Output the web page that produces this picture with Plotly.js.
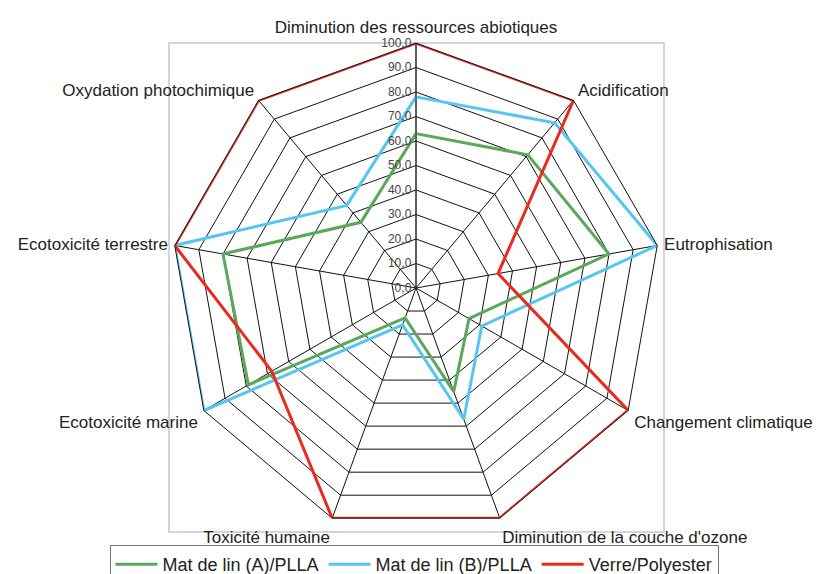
<!DOCTYPE html>
<html>
<head>
<meta charset="utf-8">
<script src="https://cdn.plot.ly/plotly-3.0.1.min.js"></script>
<style>html,body{margin:0;padding:0;background:#fff;width:828px;height:574px;overflow:hidden;}#chart{width:828px;height:600px;}</style>
</head>
<body>
<div id="chart"></div>
<script>
const categories = [
  "Diminution des ressources abiotiques",
  "Acidification",
  "Eutrophisation",
  "Changement climatique",
  "Diminution de la couche d'ozone",
  "Toxicité humaine",
  "Ecotoxicité marine",
  "Ecotoxicité terrestre",
  "Oxydation photochimique"
];
const seriesNames = ["Mat de lin (A)/PLLA", "Mat de lin (B)/PLLA", "Verre/Polyester"];
const matA = [63, 71, 80, 25, 45, 13, 79, 80, 35];
const matB = [78, 88, 100, 31, 57, 16, 100, 100, 44];
const verre = [100, 100, 34, 100, 100, 100, 68, 100, 100];
const radialTickVals = [0, 10, 20, 30, 40, 50, 60, 70, 80, 90, 100];
const radialTickText = ["0,0", "10,0", "20,0", "30,0", "40,0", "50,0", "60,0", "70,0", "80,0", "90,0", "100,0"];
const colors = ["#5aa85c", "#55c6f2", "#ea2a1e"];

function closed(arr) { return arr.concat([arr[0]]); }
const allSeries = [matA, matB, verre];
const traces = allSeries.map((vals, i) => ({
  type: "scatterpolar",
  r: closed(vals),
  theta: closed(categories),
  mode: "lines",
  name: seriesNames[i],
  line: { color: colors[i], width: 3 },
  hoverinfo: "skip"
}));

const H = 600;
const layout = {
  width: 828,
  height: H,
  margin: { l: 0, r: 0, t: 0, b: 0 },
  paper_bgcolor: "#ffffff",
  font: { family: "Liberation Sans, Arial, sans-serif", color: "#222", size: 14 },
  showlegend: true,
  legend: {
    orientation: "h",
    x: 0.5, xanchor: "center",
    y: 1 - 545/H, yanchor: "top",
    bordercolor: "#777",
    borderwidth: 1,
    bgcolor: "rgba(255,255,255,0)",
    font: { size: 18, color: "#222" },
    itemwidth: 42,
    tracegroupgap: 0
  },
  polar: {
    domain: { x: [171/828, 661/828], y: [1 - 533/H, 1 - 43/H] },
    bgcolor: "rgba(0,0,0,0)",
    gridshape: "linear",
    angularaxis: {
      rotation: 90,
      direction: "clockwise",
      linecolor: "#111",
      linewidth: 1,
      gridcolor: "#111",
      gridwidth: 1,
      showline: true,
      ticks: "outside",
      ticklen: 3,
      tickcolor: "rgba(0,0,0,0)",
      tickfont: { size: 17, color: "#222" }
    },
    radialaxis: {
      range: [0, 100],
      angle: 90,
      side: "counterclockwise",
      tickvals: radialTickVals,
      ticktext: radialTickText,
      tickfont: { size: 12, color: "#444" },
      showline: true,
      linecolor: "#333",
      linewidth: 1,
      gridcolor: "#111",
      gridwidth: 1,
      ticks: "",
      tickangle: 90
    }
  },
  shapes: [
    { type: "rect", xref: "paper", yref: "paper",
      x0: 169/828, x1: 664/828, y0: 1 - 532/H, y1: 1 - 43/H,
      line: { color: "#c9c5d6", width: 1.5 }, layer: "below" }
  ]
};

Plotly.newPlot("chart", traces, layout, { staticPlot: true, displayModeBar: false });
</script>
</body>
</html>
